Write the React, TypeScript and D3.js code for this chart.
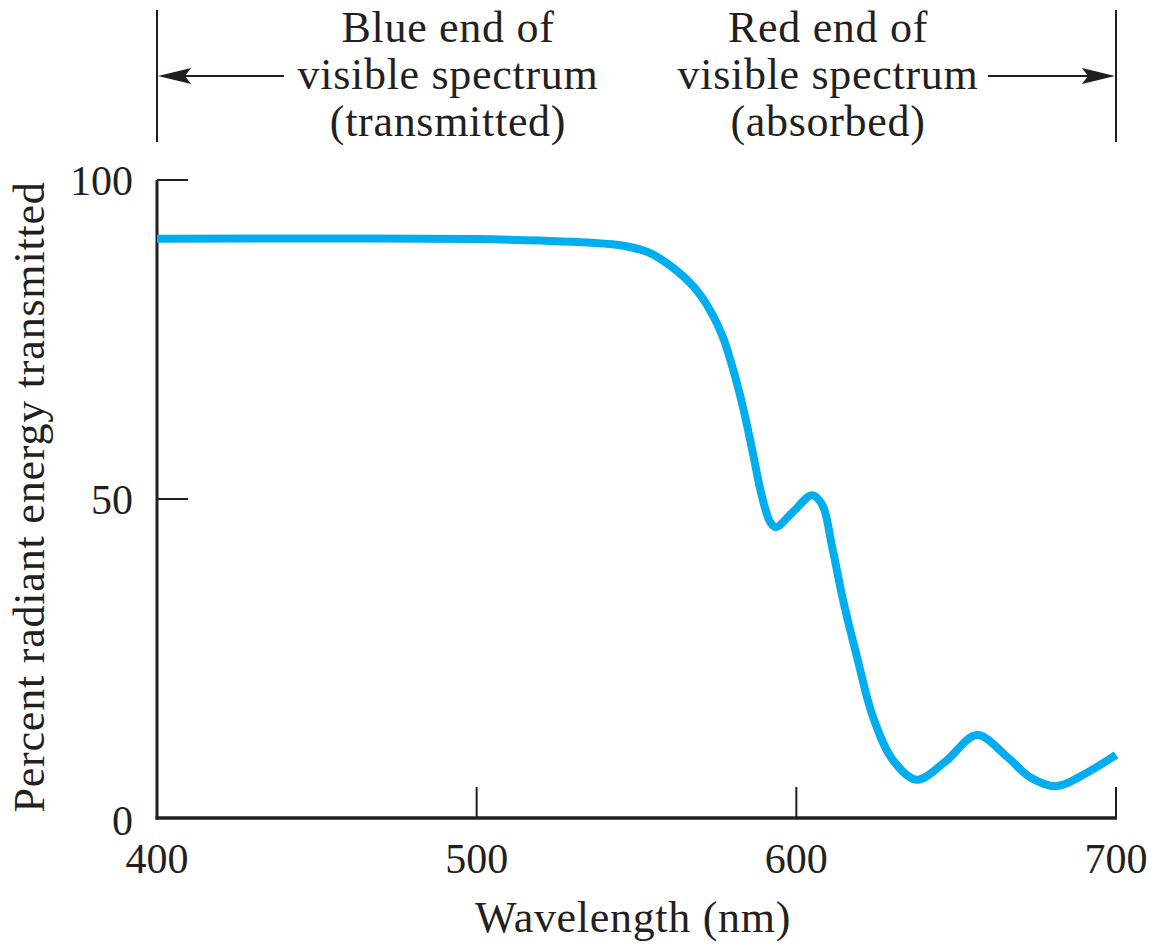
import React from 'react'
import * as d3 from 'd3'

const wavelengths = [400, 450, 500, 520, 535, 546, 554, 561, 568, 573, 577, 580, 583.3, 586.4, 589.3, 591.8, 593.6, 599, 604.9, 608.1, 611.2, 614.6, 619, 624, 630.2, 637.7, 646.5, 656.5, 665.9, 673.1, 681.5, 690.9, 700]
const transmitted = [90.8, 90.85, 90.75, 90.5, 90.2, 89.7, 88.6, 86.4, 83.2, 79.6, 75.4, 70.7, 64.4, 57.2, 50.3, 46.4, 45.6, 48.0, 50.6, 49.1, 42.5, 34.2, 25.2, 15.8, 9.1, 6.0, 8.8, 13.0, 9.6, 6.4, 5.0, 7.1, 9.9]

const xTicks = [400, 500, 600, 700]
const yTicks = [0, 50, 100]
const blueLabel = ['Blue end of', 'visible spectrum', '(transmitted)']
const redLabel = ['Red end of', 'visible spectrum', '(absorbed)']

const WIDTH = 1161
const HEIGHT = 950
const INK = '#231f20'
const SERIF = '"Liberation Serif", "Times New Roman", serif'

const App = () => {
  const x = d3.scaleLinear().domain([400, 700]).range([157, 1116])
  const y = d3.scaleLinear().domain([0, 100]).range([818, 180])

  const points = wavelengths.map((w, i) => ({ w, t: transmitted[i] }))
  const line = d3.line<{ w: number, t: number }>()
    .x(d => x(d.w))
    .y(d => y(d.t))
    .curve(d3.curveCatmullRom.alpha(0.5))

  const left = x(400)
  const right = x(700)
  const arrowY = 76
  const lineHeight = 47

  return (
    <svg width={WIDTH} height={HEIGHT} style={{ position: 'absolute', left: 0, top: 0, background: '#fff' }}
      fontFamily={SERIF} fill={INK}>
      {/* brackets for visible spectrum ends */}
      <line x1={left} x2={left} y1={10} y2={142} stroke={INK} strokeWidth={2} />
      <line x1={right} x2={right} y1={10} y2={142} stroke={INK} strokeWidth={2} />
      <line x1={left + 20} x2={284} y1={arrowY} y2={arrowY} stroke={INK} strokeWidth={2} />
      <path d={`M${left + 1},${arrowY} L${left + 34},${arrowY - 8} L${left + 28},${arrowY} L${left + 34},${arrowY + 8} Z`} />
      <line x1={988} x2={right - 20} y1={arrowY} y2={arrowY} stroke={INK} strokeWidth={2} />
      <path d={`M${right - 1},${arrowY} L${right - 34},${arrowY - 8} L${right - 28},${arrowY} L${right - 34},${arrowY + 8} Z`} />

      <g fontSize={44} letterSpacing={0.7} textAnchor='middle'>
        {blueLabel.map((s, i) => (
          <text key={'b' + i} x={448} y={42 + i * lineHeight}>{s}</text>
        ))}
        {redLabel.map((s, i) => (
          <text key={'r' + i} x={828} y={42 + i * lineHeight}>{s}</text>
        ))}
      </g>

      {/* axes */}
      <line x1={left} x2={left} y1={y(100)} y2={y(0) + 1.5} stroke={INK} strokeWidth={3} />
      <line x1={left - 1.5} x2={right + 1} y1={y(0)} y2={y(0)} stroke={INK} strokeWidth={3.5} />
      {yTicks.filter(t => t > 0).map(t => (
        <line key={'yt' + t} x1={left} x2={left + 31} y1={y(t)} y2={y(t)} stroke={INK} strokeWidth={2} />
      ))}
      {xTicks.filter(t => t > 400).map(t => (
        <line key={'xt' + t} x1={x(t)} x2={x(t)} y1={y(0)} y2={y(0) - 31} stroke={INK} strokeWidth={2} />
      ))}

      <g fontSize={42} textAnchor='end'>
        {yTicks.map(t => (
          <text key={'yl' + t} x={133} y={y(t) + (t === 0 ? 17 : 15)}>{t}</text>
        ))}
      </g>
      <g fontSize={42} textAnchor='middle'>
        {xTicks.map(t => (
          <text key={'xl' + t} x={x(t)} y={873}>{t}</text>
        ))}
      </g>

      <text x={633} y={932} fontSize={44} letterSpacing={0.7} textAnchor='middle'>Wavelength (nm)</text>
      <text transform='translate(44,497) rotate(-90)' fontSize={44} letterSpacing={0.8} textAnchor='middle'>
        Percent radiant energy transmitted
      </text>

      <path d={line(points) || ''} fill='none' stroke='#00aeef' strokeWidth={8} strokeLinejoin='round' />
    </svg>
  )
}

export default App
